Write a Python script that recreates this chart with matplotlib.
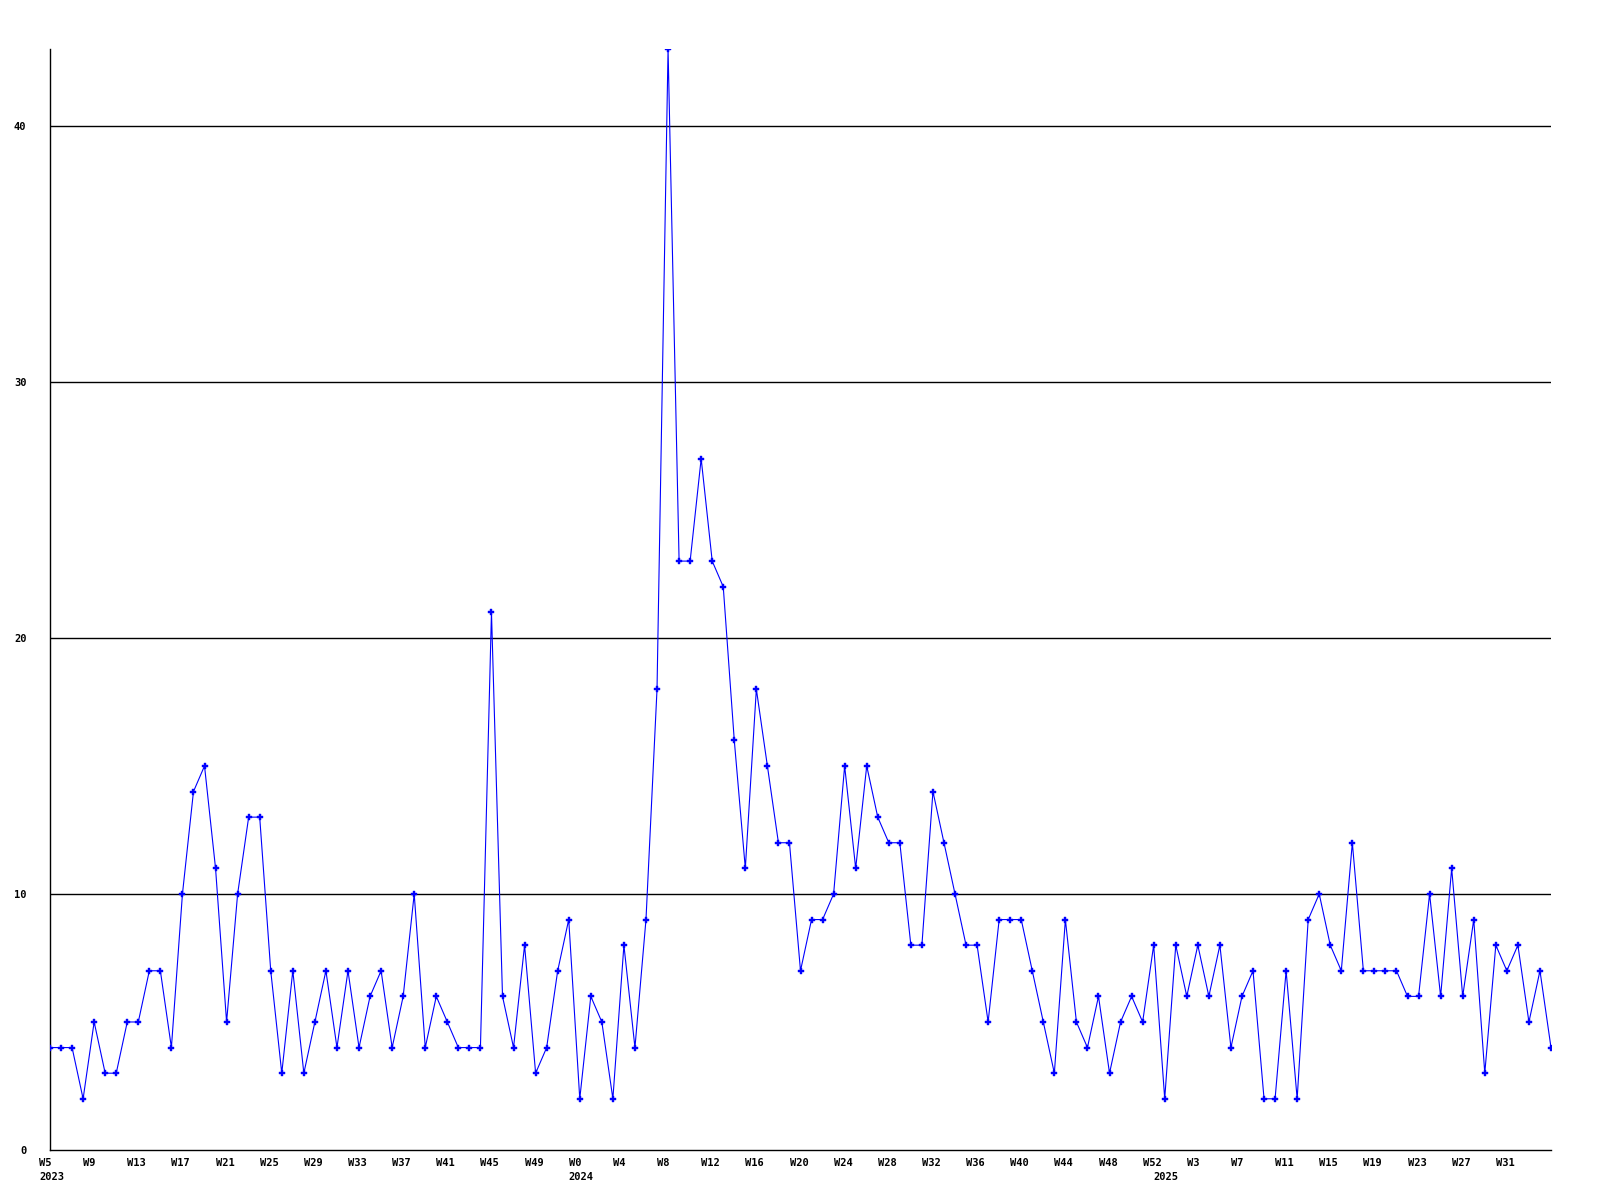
import matplotlib
matplotlib.use("Agg")
import matplotlib.pyplot as plt
import matplotlib.transforms as mtransforms

# weekly counts, 2023 W5 .. 2025 W35
counts = [
    4, 4, 4, 2, 5, 3, 3, 5, 5, 7, 7, 4, 10, 14, 15, 11, 5, 10, 13, 13,
    7, 3, 7, 3, 5, 7, 4, 7, 4, 6, 7, 4, 6, 10, 4, 6, 5, 4, 4, 4,
    21, 6, 4, 8, 3, 4, 7, 9, 2, 6, 5, 2, 8, 4, 9, 18, 43, 23, 23, 27,
    23, 22, 16, 11, 18, 15, 12, 12, 7, 9, 9, 10, 15, 11, 15, 13, 12, 12, 8, 8,
    14, 12, 10, 8, 8, 5, 9, 9, 9, 7, 5, 3, 9, 5, 4, 6, 3, 5, 6, 5,
    8, 2, 8, 6, 8, 6, 8, 4, 6, 7, 2, 2, 7, 2, 9, 10, 8, 7, 12, 7,
    7, 7, 7, 6, 6, 10, 6, 11, 6, 9, 3, 8, 7, 8, 5, 7, 4,
]

week_ticks = [0, 4, 8, 12, 16, 20, 24, 28, 32, 36, 40, 44,
              48, 52, 56, 60, 64, 68, 72, 76, 80, 84, 88, 92, 96, 100,
              104, 108, 112, 116, 120, 124, 128, 132]
week_labels = ["W5", "W9", "W13", "W17", "W21", "W25", "W29", "W33", "W37", "W41", "W45", "W49",
               "W0", "W4", "W8", "W12", "W16", "W20", "W24", "W28", "W32", "W36", "W40", "W44", "W48", "W52",
               "W3", "W7", "W11", "W15", "W19", "W23", "W27", "W31"]
year_ticks = [0, 48, 101]
year_labels = ["2023", "2024", "2025"]

y_ticks = [0, 10, 20, 30, 40]

FONT = dict(family="DejaVu Sans Mono", fontweight="bold", fontsize=7.5)

fig = plt.figure(figsize=(16, 12), dpi=100)
ax = fig.add_axes([50 / 1600, 1 - 1150 / 1200, 1501 / 1600, 1101 / 1200])

x = list(range(len(counts)))
ax.plot(x, counts, color="#0000ff", linewidth=0.8, marker="P", markersize=4,
        markerfacecolor="#0000ff", markeredgecolor="#0000ff", markeredgewidth=0.3,
        zorder=3)

ax.set_xlim(0, len(counts) - 1)
ax.set_ylim(0, max(counts))

for v in y_ticks[1:]:
    ax.axhline(v, color="black", linewidth=1, zorder=1)

for s in ["top", "right"]:
    ax.spines[s].set_visible(False)
for s in ["left", "bottom"]:
    ax.spines[s].set_color("black")
    ax.spines[s].set_linewidth(1)

ax.set_yticks(y_ticks)
ax.set_yticklabels([str(v) for v in y_ticks], **FONT)
ax.tick_params(axis="y", length=0, pad=17)
ax.set_xticks([])

trans = mtransforms.blended_transform_factory(ax.transData, ax.transAxes)
for pos, lab in zip(week_ticks, week_labels):
    t = mtransforms.offset_copy(trans, fig=fig, x=-11, y=-8, units="dots")
    ax.text(pos, 0, lab, transform=t, ha="left", va="top", **FONT)
for pos, lab in zip(year_ticks, year_labels):
    t = mtransforms.offset_copy(trans, fig=fig, x=-11, y=-22, units="dots")
    ax.text(pos, 0, lab, transform=t, ha="left", va="top", **FONT)

fig.savefig("out.png", dpi=100, facecolor="white")
